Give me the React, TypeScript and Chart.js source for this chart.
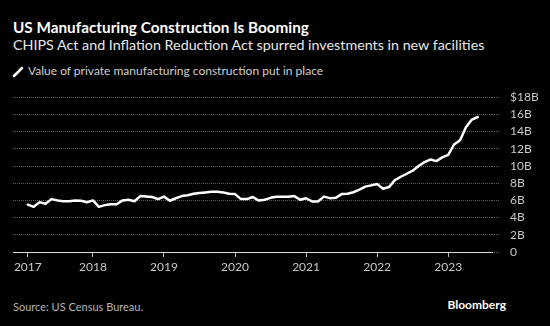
import React, { useEffect, useRef } from "react";
import { Chart, registerables } from "chart.js";

Chart.register(...registerables);

// Monthly data, Feb 2017 .. Jun 2023 (month index: Jan 2017 = 0)
const startMonthIndex = 1;
const values: number[] = [
  5.5, 5.25, 5.8, 5.6, 6.15, 6.0, 5.9, 5.9, 6.0, 5.95, 5.78, // 2017 Feb-Dec
  6.0, 5.25, 5.45, 5.55, 5.55, 6.0, 6.07, 5.9, 6.5, 6.45, 6.4, 6.15, // 2018
  6.44, 5.96, 6.25, 6.5, 6.6, 6.78, 6.85, 6.92, 7.0, 7.0, 6.93, 6.77, // 2019
  6.73, 6.15, 6.15, 6.4, 5.98, 6.07, 6.3, 6.42, 6.42, 6.42, 6.5, 6.07, // 2020
  6.25, 5.88, 5.88, 6.44, 6.26, 6.3, 6.73, 6.77, 6.95, 7.25, 7.6, 7.75, // 2021
  7.9, 7.35, 7.55, 8.35, 8.75, 9.1, 9.45, 10.0, 10.45, 10.75, 10.57, 11.0, // 2022
  11.3, 12.5, 13.0, 14.5, 15.4, 15.7, // 2023 Jan-Jun
];

const xTickMonths = [1, 12, 24, 36, 48, 60, 72];
const xTickLabels = ["2017", "2018", "2019", "2020", "2021", "2022", "2023"];
const yTickValues = [0, 2, 4, 6, 8, 10, 12, 14, 16, 18];
const yTickLabels = ["0", "2B", "4B", "6B", "8B", "10B", "12B", "14B", "16B", "$18B"];

const FONT = "Lato, 'Noto Sans', sans-serif";

export default function App() {
  const ref = useRef<HTMLCanvasElement | null>(null);

  useEffect(() => {
    if (!ref.current) return;
    const points = values.map((v, i) => ({ x: startMonthIndex + i, y: v }));
    const chart = new Chart(ref.current, {
      type: "line",
      data: {
        datasets: [
          {
            data: points,
            borderColor: "#ffffff",
            borderWidth: 2.5,
            pointRadius: 0,
            tension: 0,
            borderJoinStyle: "round",
            borderCapStyle: "round",
          },
        ],
      },
      options: {
        animation: false,
        responsive: false,
        devicePixelRatio: 1,
        layout: { padding: { left: 13, top: 8, right: 0, bottom: 0 } },
        plugins: { legend: { display: false }, tooltip: { enabled: false } },
        scales: {
          x: {
            type: "linear",
            min: -1.5,
            max: 79.4,
            afterBuildTicks: (scale: any) => {
              scale.ticks = xTickMonths.map((v) => ({ value: v }));
            },
            afterFit: (scale: any) => {
              scale.height = 33;
            },
            ticks: {
              autoSkip: false,
              maxRotation: 0,
              color: "#c8c8c8",
              font: { family: FONT, size: 12 },
              padding: 3,
              callback: (v: any) => {
                const i = xTickMonths.indexOf(Number(v));
                return i >= 0 ? xTickLabels[i] : "";
              },
            },
            grid: {
              drawOnChartArea: false,
              drawTicks: true,
              tickLength: 5,
              color: "#bbbbbb",
            },
            border: { display: true, color: "#e0e0e0", width: 1 },
          },
          y: {
            position: "right",
            min: 0,
            max: 18,
            afterBuildTicks: (scale: any) => {
              scale.ticks = yTickValues.map((v) => ({ value: v }));
            },
            afterFit: (scale: any) => {
              scale.width = 58;
            },
            ticks: {
              autoSkip: false,
              color: "#c8c8c8",
              font: { family: FONT, size: 12 },
              padding: 10,
              callback: (v: any) => {
                const i = yTickValues.indexOf(Number(v));
                return i >= 0 ? yTickLabels[i] : "";
              },
            },
            grid: {
              color: "#5c5c5c",
              lineWidth: 1,
              tickLength: 8,
              tickBorderDash: [1, 1],
              tickColor: "#5c5c5c",
            },
            border: { display: false, dash: [1, 1] },
          },
        },
      },
    });
    return () => chart.destroy();
  }, []);

  const text = (style: React.CSSProperties, content: React.ReactNode) => (
    <div
      style={{
        position: "absolute",
        lineHeight: 1.2,
        whiteSpace: "nowrap",
        fontFamily: FONT,
        ...style,
      }}
    >
      {content}
    </div>
  );

  return (
    <div
      style={{
        position: "fixed",
        left: 0,
        top: 0,
        width: 550,
        height: 326,
        background: "#000",
        overflow: "hidden",
      }}
    >
      {text(
        { left: 13, top: 18.2, fontSize: 15.3, fontWeight: 700, color: "#ffffff" },
        "US Manufacturing Construction Is Booming"
      )}
      {text(
        { left: 13, top: 36, fontSize: 14.3, color: "#e8e8e8" },
        "CHIPS Act and Inflation Reduction Act spurred investments in new facilities"
      )}
      <svg
        style={{ position: "absolute", left: 12, top: 66 }}
        width={12}
        height={12}
      >
        <line x1={2} y1={10} x2={10} y2={2} stroke="#fff" strokeWidth={2.5} strokeLinecap="round" />
      </svg>
      {text(
        { left: 28, top: 63.5, fontSize: 12, color: "#cfcfcf" },
        "Value of private manufacturing construction put in place"
      )}
      <canvas
        ref={ref}
        width={550}
        height={205}
        style={{ position: "absolute", left: 0, top: 80, width: 550, height: 205 }}
      />
      {text(
        { left: 13, top: 300, fontSize: 11, color: "#b4b4b4" },
        "Source: US Census Bureau."
      )}
      {text(
        { right: 44, top: 297.5, fontSize: 12, fontWeight: 700, color: "#ffffff" },
        "Bloomberg"
      )}
    </div>
  );
}
